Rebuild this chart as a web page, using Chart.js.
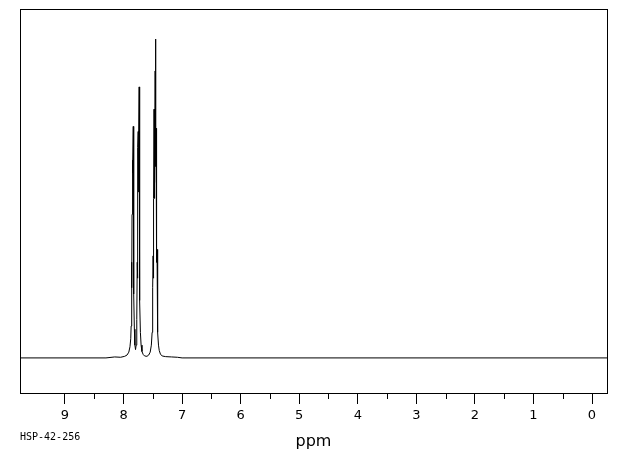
<!DOCTYPE html>
<html>
<head>
<meta charset="utf-8">
<script src="https://cdn.jsdelivr.net/npm/chart.js@4"></script>
<style>
html,body{margin:0;padding:0;background:#fff;}
#c{display:block;}
</style>
</head>
<body>
<canvas id="c" width="620" height="455"></canvas>
<script>
// Chemical shift (ppm) and relative intensity
const shiftPpm = [9.77, 8.30, 8.15, 8.05, 7.98, 7.94, 7.91, 7.89, 7.877, 7.870, 7.862, 7.859, 7.855, 7.851, 7.846, 7.840, 7.834, 7.830, 7.827, 7.822, 7.815, 7.806, 7.795, 7.785, 7.776, 7.772, 7.766, 7.762, 7.756, 7.750, 7.744, 7.738, 7.733, 7.729, 7.726, 7.720, 7.712, 7.700, 7.685, 7.665, 7.64, 7.60, 7.57, 7.545, 7.525, 7.512, 7.505, 7.500, 7.495, 7.491, 7.487, 7.484, 7.479, 7.474, 7.470, 7.466, 7.460, 7.455, 7.451, 7.448, 7.444, 7.440, 7.436, 7.432, 7.428, 7.422, 7.414, 7.403, 7.39, 7.37, 7.34, 7.28, 7.18, 7.08, 7.00, -0.26];
const intensity = [0, 0, 0.3, 0.2, 0.5, 0.9, 1.8, 3.5, 6, 10, 30, 22, 45, 62, 48, 58, 72.6, 40, 45, 20, 9, 4, 2.6, 4, 7, 12, 30, 25, 66, 71, 52, 70, 85, 40, 45, 18, 8, 4, 2, 1.1, 0.6, 0.5, 0.9, 1.8, 4, 8, 14, 22, 32, 25, 45, 50, 78, 50, 62, 55, 90, 100, 60, 70, 72, 40, 33, 30, 34, 18, 8, 4, 2.3, 1.2, 0.6, 0.4, 0.3, 0.2, 0, 0];
const majorTicks = [9, 8, 7, 6, 5, 4, 3, 2, 1, 0];
const minorTicks = [8.5, 7.5, 6.5, 5.5, 4.5, 3.5, 2.5, 1.5, 0.5];
const axisTitle = 'ppm';
const sampleId = 'HSP-42-256';

const points = shiftPpm.map((x, i) => ({x: x, y: intensity[i]}));

const framePlugin = {
  id: 'frame',
  afterDraw(chart) {
    const {ctx, chartArea: a, scales} = chart;
    ctx.save();
    ctx.strokeStyle = '#000';
    ctx.lineWidth = 1;
    ctx.strokeRect(a.left + 0.5, a.top + 0.5, a.right - a.left, a.bottom - a.top);
    // minor ticks
    ctx.beginPath();
    minorTicks.forEach(v => {
      const px = Math.round(scales.x.getPixelForValue(v)) + 0.5;
      ctx.moveTo(px, a.bottom);
      ctx.lineTo(px, a.bottom + 6);
    });
    ctx.stroke();
    // sample id
    ctx.fillStyle = '#000';
    ctx.font = '10px "DejaVu Sans Mono"';
    ctx.textBaseline = 'alphabetic';
    ctx.textAlign = 'left';
    ctx.fillText(sampleId, 20, 440);
    ctx.restore();
  }
};

new Chart(document.getElementById('c'), {
  type: 'scatter',
  data: {
    datasets: [{
      data: points,
      showLine: true,
      borderColor: '#000',
      borderWidth: 1,
      pointRadius: 0,
      tension: 0,
      fill: false
    }]
  },
  options: {
    responsive: false,
    animation: false,
    devicePixelRatio: 1,
    layout: {padding: {left: 20, right: 13, top: 9, bottom: 0}},
    plugins: {legend: {display: false}, tooltip: {enabled: false}},
    scales: {
      x: {
        type: 'linear',
        reverse: true,
        min: -0.256,
        max: 9.768,
        afterBuildTicks(scale) { scale.ticks = majorTicks.map(v => ({value: v})); },
        afterFit(scale) { scale.height = 62; },
        ticks: {
          color: '#000',
          font: {family: 'DejaVu Sans', size: 13},
          padding: 4,
          maxRotation: 0,
          autoSkip: false,
          callback: v => String(v)
        },
        grid: {display: true, drawOnChartArea: false, drawTicks: true, tickLength: 11, tickColor: '#000', tickWidth: 1},
        border: {display: false},
        title: {display: true, text: axisTitle, color: '#000', font: {family: 'DejaVu Sans', size: 16}, padding: {top: 0, bottom: 4}}
      },
      y: {
        type: 'linear',
        display: false,
        min: -11.006,
        max: 109.43
      }
    }
  },
  plugins: [framePlugin]
});
</script>
</body>
</html>
